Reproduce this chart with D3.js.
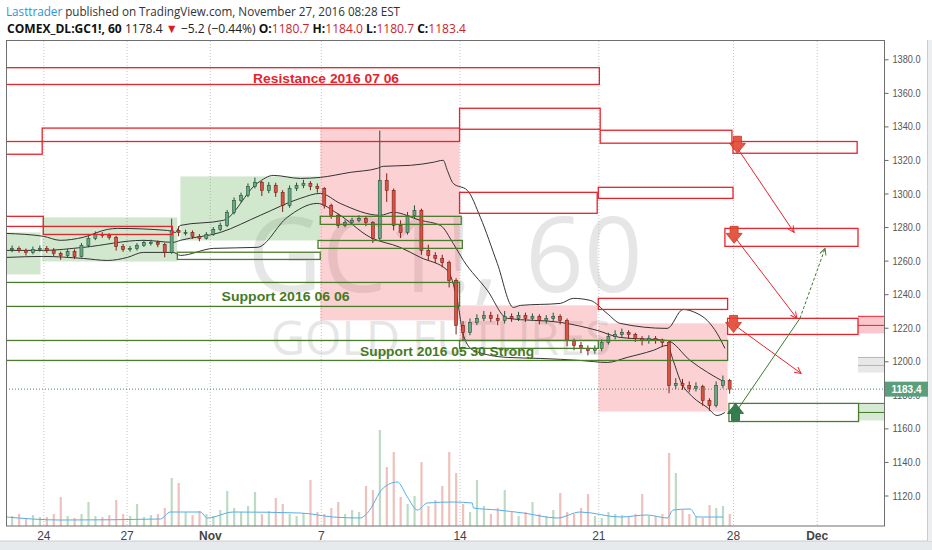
<!DOCTYPE html>
<html lang="en">
<head>
<meta charset="UTF-8">
<title>COMEX_DL:GC1!, 60</title>
<script src="https://d3js.org/d3.v7.min.js"></script>
<style>
  body { margin: 0; background: #fff; font-family: 'Open Sans', Arial, sans-serif; }
  svg { display: block; }
  .axis path { display: none; }
  .axis line { stroke: #666; }
</style>
</head>
<body>
<div id="chart"></div>
<script>
// ---- data ----
// time axis is in trading days from Mon Oct 24 (0) to Thu Dec 1 (28)
const dateTicks = [0, 3, 6, 10, 15, 20, 25, 28];
const dateLabels = ["24", "27", "Nov", "7", "14", "21", "28", "Dec"];
const priceTicks = [1120, 1140, 1160, 1180, 1200, 1220, 1240, 1260, 1280, 1300, 1320, 1340, 1360, 1380];

// 6-hour candles, first one centred at day -1.125
const closes = [1267.3, 1266.1, 1264.9, 1266.7, 1267.3,
  1266.1, 1264.3, 1263.1, 1265.5, 1262.5, 1269.1, 1273.3, 1275.6,
  1275.0, 1273.9, 1268.5, 1266.7, 1267.3, 1269.1, 1270.9, 1270.9,
  1269.7, 1264.9, 1278.0, 1276.8, 1276.8, 1274.5, 1273.3, 1275.6,
  1278.6, 1281.0, 1288.8, 1295.9, 1298.9, 1304.3, 1306.7, 1301.9,
  1304.9, 1300.7, 1292.9, 1303.1, 1304.9, 1306.1, 1304.3, 1303.1,
  1292.9, 1287.0, 1281.0, 1282.8, 1284.0, 1285.2, 1282.8, 1273.3,
  1307.8, 1301.9, 1281.0, 1276.8, 1287.0, 1290.0, 1266.1, 1263.1,
  1261.3, 1258.9, 1248.2, 1221.4, 1217.2, 1223.2, 1225.6, 1227.3,
  1225.6, 1224.4, 1226.7, 1225.6, 1227.3, 1225.6, 1226.7, 1224.4,
  1225.6, 1226.7, 1224.4, 1212.4, 1209.5, 1207.7, 1206.5, 1207.7,
  1211.2, 1214.8, 1216.0, 1217.2, 1216.0, 1213.6, 1212.4, 1213.6,
  1212.4, 1211.2, 1185.6, 1186.8, 1185.6, 1183.8, 1185.0, 1176.7,
  1173.7, 1185.6, 1188.6, 1183.4];
const highs = [1269.0, 1268.5, 1267.2, 1268.4, 1269.0,
  1268.7, 1267.5, 1265.4, 1266.9, 1266.8, 1270.5, 1274.9, 1277.4,
  1277.0, 1276.3, 1274.8, 1269.9, 1268.8, 1270.4, 1272.3, 1272.5,
  1272.0, 1270.6, 1285.0, 1280.5, 1278.5, 1278.0, 1275.8, 1277.0,
  1280.0, 1282.6, 1290.2, 1297.6, 1300.5, 1306.0, 1309.5, 1307.5,
  1306.8, 1306.4, 1302.0, 1304.8, 1306.5, 1308.2, 1307.4, 1306.0,
  1303.8, 1294.0, 1288.0, 1284.5, 1285.6, 1287.0, 1286.5, 1283.5,
  1337.5, 1312.0, 1303.0, 1284.0, 1289.0, 1293.0, 1291.0, 1269.5,
  1265.0, 1263.5, 1260.0, 1249.5, 1224.0, 1225.5, 1228.0, 1230.0,
  1229.5, 1228.0, 1230.0, 1228.5, 1229.5, 1229.0, 1228.5, 1228.0,
  1227.5, 1229.0, 1228.0, 1225.5, 1213.5, 1211.5, 1209.5, 1209.5,
  1213.0, 1217.0, 1218.5, 1219.5, 1218.5, 1217.0, 1215.0, 1215.5,
  1215.0, 1213.5, 1212.0, 1190.0, 1189.5, 1188.0, 1187.5, 1186.0,
  1178.0, 1188.0, 1191.5, 1189.5];
const lows = [1265.0, 1264.8, 1263.0, 1263.8, 1265.4,
  1264.6, 1262.8, 1260.5, 1261.9, 1261.0, 1261.8, 1268.0, 1272.2,
  1273.6, 1272.5, 1266.0, 1265.2, 1265.3, 1266.0, 1268.2, 1269.0,
  1268.0, 1262.0, 1264.0, 1274.5, 1275.0, 1273.0, 1271.5, 1272.5,
  1274.8, 1277.5, 1280.0, 1287.5, 1294.6, 1297.8, 1303.0, 1298.5,
  1300.2, 1298.0, 1289.0, 1291.5, 1301.5, 1303.2, 1302.0, 1300.5,
  1291.0, 1285.0, 1279.5, 1279.8, 1281.5, 1282.8, 1280.5, 1270.5,
  1272.0, 1295.0, 1278.0, 1273.5, 1275.5, 1285.0, 1263.5, 1260.0,
  1258.5, 1256.0, 1244.0, 1216.0, 1212.5, 1215.5, 1221.5, 1224.0,
  1223.5, 1221.5, 1222.5, 1223.5, 1224.0, 1223.5, 1224.0, 1222.0,
  1222.5, 1224.0, 1222.0, 1209.0, 1206.5, 1205.0, 1203.5, 1204.5,
  1206.0, 1210.0, 1213.0, 1214.5, 1213.5, 1211.5, 1209.5, 1210.5,
  1210.5, 1208.5, 1181.0, 1183.5, 1183.0, 1181.5, 1182.0, 1173.5,
  1170.5, 1172.5, 1184.0, 1180.7];
const volumes = [10, 12, 8, 11, 9,
  9, 12, 29, 10, 8, 12, 24, 10,
  9, 11, 26, 12, 10, 22, 9, 11,
  12, 18, 48, 43, 14, 11, 15, 12,
  10, 16, 35, 18, 14, 20, 34, 12,
  15, 28, 22, 12, 10, 13, 46, 14,
  12, 18, 24, 12, 16, 14, 40, 36,
  96, 59, 74, 29, 22, 30, 64, 20,
  26, 40, 74, 53, 22, 14, 46, 20,
  12, 18, 36, 14, 10, 14, 24, 12,
  10, 16, 33, 14, 12, 18, 32, 10,
  8, 14, 12, 11, 9, 12, 32, 10,
  10, 12, 73, 53, 16, 12, 10, 8,
  21, 18, 20, 12];
const volumeMA = [[-1.33, 9], [0.61, 6], [4.22, 7], [4.58, 14], [5.66, 14], [5.91, 8], [6.85, 14],
  [9.26, 13], [10.45, 9], [11.42, 8], [11.68, 13], [12.25, 38], [12.76, 44], [13.12, 29],
  [13.48, 16], [13.84, 23], [14.77, 24], [15.46, 23], [15.5, 18], [16.36, 16], [17.3, 13],
  [18.52, 8], [19.35, 14], [20.81, 9], [21.81, 11], [22.56, 8], [22.78, 16], [23.41, 17],
  [23.67, 9], [24.63, 9]];

// bollinger bands [day, price]
const upperBand = [[-1.33, 1276.2], [0, 1274.5], [0.61, 1272.1], [1.44, 1273.9], [2.31, 1278.6],
  [2.67, 1279.2], [4.47, 1278.0], [4.76, 1276.8], [4.94, 1281.0], [6.49, 1284.0], [7.71, 1306.1],
  [8.29, 1310.8], [9.26, 1309.0], [9.98, 1309.6], [11.06, 1312.6], [12.04, 1315.0], [12.25, 1316.2],
  [13.23, 1316.8], [14.05, 1318.6], [14.41, 1319.8], [14.56, 1313.8], [14.77, 1306.1], [15.28, 1301.9],
  [15.75, 1285.8], [16.36, 1258.4], [16.94, 1232.1], [17.19, 1233.3], [18.63, 1234.5], [19.1, 1237.5],
  [19.71, 1236.3], [20.33, 1228.5], [20.81, 1222.6], [22.56, 1219.6], [23.15, 1230.9], [23.59, 1229.1],
  [24.04, 1224.4], [24.41, 1216.6], [24.7, 1207.7]];
const middleBand = [[-1.33, 1266.1], [0, 1266.1], [1.44, 1267.9], [3.6, 1272.1], [4.68, 1270.9],
  [4.94, 1272.1], [6.38, 1276.8], [7.82, 1287.0], [9.26, 1297.1], [9.98, 1300.1], [10.7, 1294.1],
  [12.14, 1287.0], [12.61, 1288.8], [13.59, 1284.0], [14.31, 1281.0], [14.77, 1270.3], [15.14, 1260.1],
  [16.0, 1242.3], [16.72, 1225.6], [18.63, 1223.2], [19.96, 1218.4], [20.81, 1214.2], [22.56, 1212.4],
  [23.41, 1200.5], [24.7, 1187.4]];
const lowerBand = [[-1.33, 1261.9], [0, 1262.5], [1.44, 1261.3], [2.31, 1260.1], [3.03, 1261.9],
  [3.6, 1264.9], [4.68, 1264.9], [4.94, 1263.1], [6.13, 1267.3], [7.71, 1267.9], [8.79, 1285.8],
  [9.87, 1294.1], [10.59, 1288.2], [11.78, 1273.9], [12.86, 1267.9], [13.59, 1261.9], [14.56, 1254.2],
  [14.92, 1236.3], [15.14, 1215.4], [15.5, 1206.5], [16.72, 1202.3], [17.91, 1201.7], [19.35, 1200.5],
  [20.33, 1199.3], [21.07, 1202.3], [22.04, 1206.5], [22.56, 1209.5], [22.78, 1200.5], [23.04, 1188.6],
  [23.52, 1178.5], [24.04, 1172.5], [24.41, 1167.7], [24.7, 1169.5]];

// drawn zones [dayFrom, dayTo, priceLow, priceHigh]
const redBoxes = [[-1.4, 20.04, 1365, 1375], [-1.4, -0.04, 1323.4, 1331], [-0.04, 15, 1331, 1339],
  [15, 20.07, 1338.3, 1350.8], [20.07, 24.96, 1330, 1337.7], [25, 29.45, 1324, 1331],
  [15, 19.96, 1288.2, 1300.7], [20, 25, 1297.1, 1303.7], [-1.4, 0, 1280.4, 1286.4],
  [0, 4.65, 1275.6, 1280.4], [24.7, 29.48, 1268.5, 1279.2], [20, 24.8, 1230.9, 1237.5],
  [24.8, 29.48, 1216, 1225.6]];
const greenBoxes = [[-1.4, 15, 1232.7, 1247], [-1.4, 24.8, 1200.5, 1212.4], [15, 20, 1207.7, 1212.4],
  [4.83, 9.98, 1260.7, 1265], [9.98, 15.06, 1281.6, 1286.4], [9.9, 15.1, 1267.3, 1272],
  [24.85, 29.5, 1164.1, 1174.9]];
const greenFills = [[-1.4, -0.1, 1251.8, 1276.8], [-0.04, 4.83, 1259.5, 1285.8], [4.94, 9.98, 1272, 1310.2]];
const redFills = [[9.98, 15, 1224.4, 1338.3], [15, 19.96, 1212.4, 1233.3], [20, 24.8, 1170, 1222.6]];
// zones that continue past the right edge [colour, priceLow, priceHigh, innerLine]
const edgeZones = [["red", 1216.6, 1226.8, 1221.4], ["gray", 1193.3, 1202.3, 1197.5], ["green", 1164.7, 1174.9, 1169.5]];
const zoneLabels = [["Resistance 2016 07 06", 10.19, 1365.6, "#e8232b", 146],
  ["Support 2016 06 06", 8.73, 1236.0, "#467a22", 128],
  ["Support 2016 05 30 Strong", 14.55, 1203.0, "#467a22", 174]];

// arrow markers [day, tip price, direction]
const markers = [[25.16, 1324.0, "down"], [25.04, 1270.3, "down"], [25.02, 1217.2, "down"], [25.09, 1174.9, "up"]];
const redPaths = [[25.14, 1327.5, 27.19, 1276.8], [25.07, 1273.9, 27.29, 1225.6], [25.07, 1221.4, 27.44, 1192.8]];
const greenPath = [25.07, 1168.9, 27.40, 1225.6];
const greenDashed = [27.40, 1225.6, 28.30, 1267.3];
const lastPrice = 1183.4;

// ---- layout ----
const W = 932, H = 550;
const pl = 6, pr = 884, pt = 41, pb = 526;

const svg = d3.select("#chart").append("svg").attr("width", W).attr("height", H);

const x = d3.scaleLinear().domain([0, 20, 25, 28]).range([43.3, 598.3, 733, 816.7]);
const y = d3.scaleLinear().domain([1120, 1380]).range([495.5, 59.3]);
const yv = d3.scaleLinear().domain([0, 100]).range([pb, pb - 100]);

const defs = svg.append("defs");
defs.append("clipPath").attr("id", "plot").append("rect")
  .attr("x", pl).attr("y", pt).attr("width", pr - pl).attr("height", pb - pt);
function arrowHead(id, color) {
  defs.append("marker").attr("id", id).attr("viewBox", "0 0 10 10")
    .attr("refX", 9).attr("refY", 5).attr("markerWidth", 8).attr("markerHeight", 8)
    .attr("orient", "auto").attr("markerUnits", "userSpaceOnUse")
    .append("path").attr("d", "M1,1 L9,5 L1,9").attr("fill", "none")
    .attr("stroke", color).attr("stroke-width", 1.2);
}
arrowHead("headRed", "#e8232b");
arrowHead("headGreen", "#3d7a2a");

// outer frame
svg.append("rect").attr("width", W).attr("height", H).attr("fill", "#fff");
svg.append("rect").attr("x", 0).attr("y", 541).attr("width", W).attr("height", 9).attr("fill", "#e7eaed");
svg.append("line").attr("x1", 0).attr("x2", W).attr("y1", 541).attr("y2", 541).attr("stroke", "#c9cdd1");
svg.append("rect").attr("x", 928).attr("y", 40).attr("width", 4).attr("height", 501).attr("fill", "#eceef0");
svg.append("line").attr("x1", 927.5).attr("x2", 927.5).attr("y1", 40).attr("y2", 541).attr("stroke", "#c9cdd1");

// header
const h1 = svg.append("text").attr("x", 6).attr("y", 16).attr("font-size", 13)
  .attr("textLength", 394).attr("lengthAdjust", "spacingAndGlyphs");
h1.append("tspan").attr("fill", "#2f93d6").text("Lasttrader");
h1.append("tspan").attr("fill", "#333").text(" published on TradingView.com, November 27, 2016 08:28 EST");

const h2 = svg.append("text").attr("x", 7).attr("y", 33).attr("font-size", 12.5)
  .attr("textLength", 459).attr("lengthAdjust", "spacingAndGlyphs").attr("fill", "#222");
const red = "#c9252c";
[["COMEX_DL:GC1!, 60", "bold", "#111"], ["  1178.4 ", "normal", "#222"], ["▼", "normal", "#d61f26"],
 [" −5.2 (−0.44%) ", "normal", "#222"], ["O:", "bold", "#111"], ["1180.7", "normal", red],
 [" H:", "bold", "#111"], ["1184.0", "normal", red], [" L:", "bold", "#111"], ["1180.7", "normal", red],
 [" C:", "bold", "#111"], ["1183.4", "normal", red]].forEach(s => {
  h2.append("tspan").attr("font-weight", s[1]).attr("fill", s[2]).text(s[0]);
});

const plot = svg.append("g").attr("clip-path", "url(#plot)");

// watermark
plot.append("text").attr("x", 445).attr("y", 292).attr("text-anchor", "middle")
  .attr("font-family", "'Open Sans', sans-serif").attr("font-size", 104)
  .attr("textLength", 395).attr("lengthAdjust", "spacingAndGlyphs")
  .attr("fill", "#e6e6e6").text("GC1!, 60");
plot.append("text").attr("x", 441).attr("y", 355).attr("text-anchor", "middle")
  .attr("font-family", "'Open Sans', sans-serif").attr("font-size", 48)
  .attr("textLength", 340).attr("lengthAdjust", "spacingAndGlyphs")
  .attr("fill", "#e6e6e6").text("GOLD FUTURES");

// date grid
plot.selectAll(".vgrid").data(dateTicks).join("line")
  .attr("x1", d => x(d) + 0.5).attr("x2", d => x(d) + 0.5).attr("y1", pt).attr("y2", pb)
  .attr("stroke", "#c4c4c4").attr("stroke-dasharray", "1,2");

function box(d) {
  return plot.append("rect").attr("x", x(d[0])).attr("width", x(d[1]) - x(d[0]))
    .attr("y", y(d[3])).attr("height", y(d[2]) - y(d[3]));
}

// filled zones
greenFills.forEach(d => box(d).attr("fill", "rgba(90,170,80,0.28)"));
redFills.forEach(d => box(d).attr("fill", "rgba(240,70,85,0.25)"));

// edge zones
const edgeColors = { red: ["rgba(240,70,85,0.3)", "#e8232b"], gray: ["rgba(150,150,150,0.22)", "#b5b5b5"], green: ["rgba(90,170,80,0.25)", "#3d7a2a"] };
edgeZones.forEach(z => {
  const c = edgeColors[z[0]];
  plot.append("rect").attr("x", x(29.48)).attr("width", pr - x(29.48))
    .attr("y", y(z[2])).attr("height", y(z[1]) - y(z[2])).attr("fill", c[0]);
  [z[2], z[3]].forEach(p => plot.append("line").attr("x1", x(29.48)).attr("x2", pr)
    .attr("y1", y(p)).attr("y2", y(p)).attr("stroke", c[1]).attr("stroke-width", 1));
});

// bollinger bands
const bandLine = d3.line().x(d => x(d[0])).y(d => y(d[1])).curve(d3.curveMonotoneX);
[upperBand, middleBand, lowerBand].forEach(b => {
  plot.append("path").attr("d", bandLine(b)).attr("fill", "none")
    .attr("stroke", "#333").attr("stroke-width", 1);
});

// volume
const tOf = i => -1.125 + i * 0.25;
const opens = closes.map((c, i) => i === 0 ? 1266.5 : closes[i - 1]);
plot.selectAll(".vol").data(volumes).join("rect")
  .attr("x", (d, i) => x(tOf(i)) - 1).attr("width", 2.2)
  .attr("y", d => yv(d)).attr("height", d => pb - yv(d))
  .attr("fill", (d, i) => closes[i] >= opens[i] ? "rgba(107,175,120,0.45)" : "rgba(215,100,90,0.4)");
plot.append("path")
  .attr("d", d3.line().x(d => x(d[0])).y(d => yv(d[1])).curve(d3.curveMonotoneX)(volumeMA))
  .attr("fill", "none").attr("stroke", "#55aee8").attr("stroke-width", 1);

// candles
const cg = plot.selectAll(".candle").data(closes).join("g");
cg.append("line")
  .attr("x1", (d, i) => x(tOf(i))).attr("x2", (d, i) => x(tOf(i)))
  .attr("y1", (d, i) => y(highs[i])).attr("y2", (d, i) => y(lows[i]))
  .attr("stroke", (d, i) => d >= opens[i] ? "#225437" : "#7a1f16").attr("stroke-width", 1);
cg.append("rect")
  .attr("x", (d, i) => x(tOf(i)) - 1.5).attr("width", 3)
  .attr("y", (d, i) => y(Math.max(d, opens[i])))
  .attr("height", (d, i) => Math.max(1, Math.abs(y(d) - y(opens[i]))))
  .attr("fill", (d, i) => d >= opens[i] ? "#6ba583" : "#d75442")
  .attr("stroke", (d, i) => d >= opens[i] ? "#225437" : "#7a1f16").attr("stroke-width", 0.6);

// zone outlines
redBoxes.forEach(d => box(d).attr("fill", "none").attr("stroke", "#e8232b").attr("stroke-width", 1.3));
greenBoxes.forEach(d => box(d).attr("fill", "none").attr("stroke", "#4a7c2c").attr("stroke-width", 1.3));
zoneLabels.forEach(l => {
  plot.append("text").attr("x", x(l[1])).attr("y", y(l[2])).attr("text-anchor", "middle")
    .attr("font-family", "'Liberation Sans', Arial, sans-serif").attr("font-weight", "bold")
    .attr("font-size", 13).attr("fill", l[3])
    .attr("textLength", l[4]).attr("lengthAdjust", "spacingAndGlyphs").text(l[0]);
});

// projection lines
redPaths.forEach(d => plot.append("line").attr("x1", x(d[0])).attr("y1", y(d[1]))
  .attr("x2", x(d[2])).attr("y2", y(d[3])).attr("stroke", "#e8232b").attr("stroke-width", 1)
  .attr("marker-end", "url(#headRed)"));
plot.append("line").attr("x1", x(greenPath[0])).attr("y1", y(greenPath[1]))
  .attr("x2", x(greenPath[2])).attr("y2", y(greenPath[3])).attr("stroke", "#3d7a2a").attr("stroke-width", 1);
plot.append("line").attr("x1", x(greenDashed[0])).attr("y1", y(greenDashed[1]))
  .attr("x2", x(greenDashed[2])).attr("y2", y(greenDashed[3])).attr("stroke", "#3d7a2a")
  .attr("stroke-width", 1).attr("stroke-dasharray", "3,2").attr("marker-end", "url(#headGreen)");

// arrow markers
markers.forEach(m => {
  const cx = x(m[0]), ty = y(m[1]), s = m[2] === "down" ? -1 : 1;
  const pts = [[0, 0], [8, 10 * s], [4, 10 * s], [4, 17 * s], [-4, 17 * s], [-4, 10 * s], [-8, 10 * s]];
  plot.append("path").attr("d", "M" + pts.map(p => (cx + p[0]) + "," + (ty + p[1])).join("L") + "Z")
    .attr("fill", m[2] === "down" ? "rgba(226,70,50,0.9)" : "rgba(40,120,70,0.95)")
    .attr("stroke", m[2] === "down" ? "#c23a22" : "#1f5e36").attr("stroke-width", 0.8);
});

// last price line
plot.append("line").attr("x1", pl).attr("x2", pr).attr("y1", y(lastPrice)).attr("y2", y(lastPrice))
  .attr("stroke", "#3f8a6a").attr("stroke-dasharray", "1,2");

// plot border
svg.append("rect").attr("x", pl + 0.5).attr("y", pt - 0.5).attr("width", pr - pl).attr("height", pb - pt + 0.5)
  .attr("fill", "none").attr("stroke", "#6f6f6f");

// price axis
const ya = svg.append("g").attr("class", "axis").attr("transform", `translate(${pr + 0.5},0)`)
  .call(d3.axisRight(y).tickValues(priceTicks).tickSize(4).tickPadding(4).tickFormat(d3.format(".1f")));
ya.selectAll("text").attr("font-family", "'Liberation Sans', Arial, sans-serif").attr("font-size", 11)
  .attr("fill", "#555").attr("textLength", 28).attr("lengthAdjust", "spacingAndGlyphs");

// last price badge
const by = y(lastPrice);
svg.append("rect").attr("x", pr + 1).attr("y", by - 7.5).attr("width", 43).attr("height", 15).attr("fill", "#5a9f7b");
svg.append("text").attr("x", pr + 22.5).attr("y", by + 4).attr("text-anchor", "middle")
  .attr("font-family", "'Liberation Sans', Arial, sans-serif").attr("font-weight", "bold").attr("font-size", 11.5)
  .attr("fill", "#fff").attr("textLength", 30).attr("lengthAdjust", "spacingAndGlyphs").text(lastPrice.toFixed(1));

// date axis
const xa = svg.append("g").attr("class", "axis").attr("transform", `translate(0,${pb})`)
  .call(d3.axisBottom(x).tickValues(dateTicks).tickSize(0).tickPadding(5).tickFormat((d, i) => dateLabels[i]));
xa.selectAll("text").attr("font-family", "'Liberation Sans', Arial, sans-serif").attr("font-size", 12)
  .attr("fill", "#444").attr("font-weight", (d, i) => isNaN(+dateLabels[i]) ? "bold" : "normal");
</script>
</body>
</html>
